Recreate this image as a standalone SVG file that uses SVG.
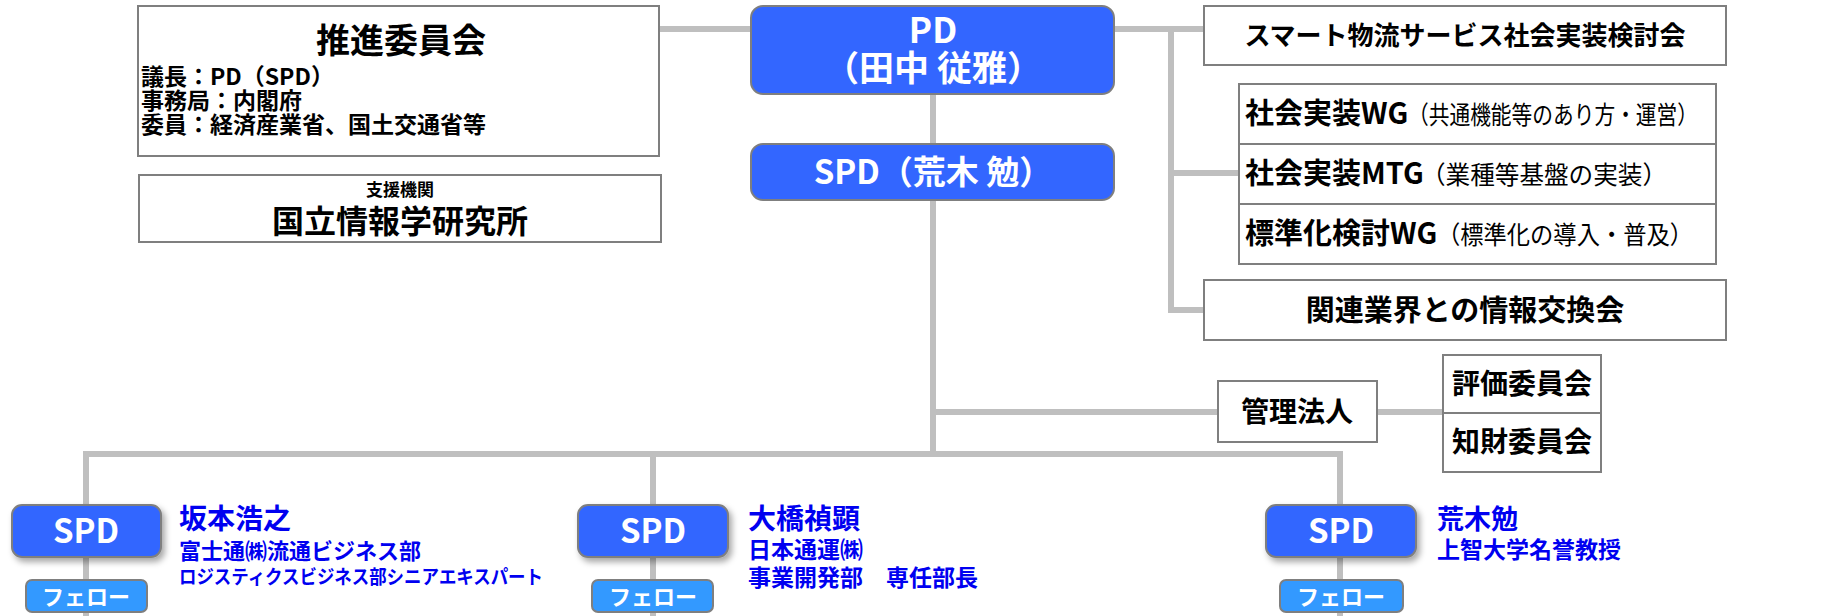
<svg xmlns="http://www.w3.org/2000/svg" width="1845" height="616" viewBox="0 0 1845 616">
<style>
text{font-family:"Noto Sans CJK JP","Noto Sans",sans-serif;font-weight:bold;fill:#000}
.box{fill:#fff;stroke:#7f7f7f;stroke-width:2}
.blue{fill:#3366ff;stroke:#7f7f7f;stroke-width:2}
.fel{fill:#3399ff;stroke:#7f7f7f;stroke-width:2}
.w{fill:#fff}
.c{text-anchor:middle}
.n{fill:#0000f0}
.light{font-weight:normal}
.con{fill:none;stroke:#bfbfbf;stroke-width:6}
</style>
<defs>
<filter id="sh" x="-20%" y="-20%" width="150%" height="160%">
<feDropShadow dx="3" dy="4" stdDeviation="3" flood-color="#000" flood-opacity="0.35"/>
</filter>
</defs>
<g id="connectors">
<path class="con" d="M659,29H751M1114,29H1204M1171,29V310H1204M1171,173H1239M933,94V454M933,412H1218M1377,412H1443M86,616V454H1340V616M653,454V616"/>
</g>
<g id="suishin">
<rect class="box" x="138" y="6" width="521" height="150"/>
<text class="c" x="401" y="53" font-size="34">推進委員会</text>
<text x="141" y="85" font-size="23">議長：PD（SPD）</text>
<text x="141" y="109" font-size="23">事務局：内閣府</text>
<text x="141" y="133" font-size="23">委員：経済産業省、国土交通省等</text>
</g>
<g id="nii">
<rect class="box" x="139" y="175" width="522" height="67"/>
<text class="c" x="400" y="196" font-size="17">支援機関</text>
<text class="c" x="400" y="233" font-size="32">国立情報学研究所</text>
</g>
<g id="pd">
<rect class="blue" x="751" y="6" width="363" height="88" rx="12"/>
<text class="c w" x="933" y="43" font-size="35">PD</text>
<text class="c w" x="933" y="81" font-size="35">（田中 従雅）</text>
</g>
<g id="spd-top">
<rect class="blue" x="751" y="144" width="363" height="56" rx="12"/>
<text class="c w" x="933" y="184" font-size="33">SPD（荒木 勉）</text>
</g>
<g id="smart">
<rect class="box" x="1204" y="6" width="522" height="59"/>
<text class="c" x="1465" y="45" font-size="26">スマート物流サービス社会実装検討会</text>
</g>
<g id="wg">
<rect class="box" x="1239" y="84" width="477" height="60"/>
<rect class="box" x="1239" y="144" width="477" height="60"/>
<rect class="box" x="1239" y="204" width="477" height="60"/>
<text x="1245" y="124" font-size="29">社会実装WG</text>
<text class="light" x="1408" y="124" font-size="25" textLength="290" lengthAdjust="spacingAndGlyphs">（共通機能等のあり方・運営）</text>
<text x="1245" y="184" font-size="29">社会実装MTG</text>
<text class="light" x="1421" y="184" font-size="25" textLength="246" lengthAdjust="spacingAndGlyphs">（業種等基盤の実装）</text>
<text x="1245" y="244" font-size="29">標準化検討WG</text>
<text class="light" x="1437" y="244" font-size="25" textLength="256" lengthAdjust="spacingAndGlyphs">（標準化の導入・普及）</text>
</g>
<g id="kanren">
<rect class="box" x="1204" y="280" width="522" height="60"/>
<text class="c" x="1465" y="321" font-size="29">関連業界との情報交換会</text>
</g>
<g id="kanri">
<rect class="box" x="1218" y="381" width="159" height="61"/>
<text class="c" x="1297" y="422" font-size="28">管理法人</text>
</g>
<g id="iinkai">
<rect class="box" x="1443" y="355" width="158" height="58"/>
<rect class="box" x="1443" y="413" width="158" height="59"/>
<text class="c" x="1522" y="394" font-size="28">評価委員会</text>
<text class="c" x="1522" y="452" font-size="28">知財委員会</text>
</g>
<g id="spd1">
<rect class="blue" x="12" y="505" width="149" height="52" rx="10" filter="url(#sh)"/>
<text class="c w" x="86" y="543" font-size="33">SPD</text>
<rect class="fel" x="26" y="580" width="121" height="32" rx="6"/>
<text class="c w" x="86" y="605" font-size="22">フェロー</text>
<text class="n" x="179" y="529" font-size="28">坂本浩之</text>
<text class="n" x="179" y="559" font-size="22">富士通㈱流通ビジネス部</text>
<text class="n" x="179" y="584" font-size="19" textLength="364" lengthAdjust="spacingAndGlyphs">ロジスティクスビジネス部シニアエキスパート</text>
</g>
<g id="spd2">
<rect class="blue" x="578" y="505" width="150" height="52" rx="10" filter="url(#sh)"/>
<text class="c w" x="653" y="543" font-size="33">SPD</text>
<rect class="fel" x="592" y="580" width="121" height="32" rx="6"/>
<text class="c w" x="653" y="605" font-size="22">フェロー</text>
<text class="n" x="748" y="529" font-size="28">大橋禎顕</text>
<text class="n" x="748" y="558" font-size="23">日本通運㈱</text>
<text class="n" x="748" y="586" font-size="23">事業開発部　専任部長</text>
</g>
<g id="spd3">
<rect class="blue" x="1266" y="505" width="150" height="52" rx="10" filter="url(#sh)"/>
<text class="c w" x="1341" y="543" font-size="33">SPD</text>
<rect class="fel" x="1280" y="580" width="123" height="32" rx="6"/>
<text class="c w" x="1341" y="605" font-size="22">フェロー</text>
<text class="n" x="1437" y="529" font-size="27">荒木勉</text>
<text class="n" x="1437" y="558" font-size="23">上智大学名誉教授</text>
</g>
</svg>
